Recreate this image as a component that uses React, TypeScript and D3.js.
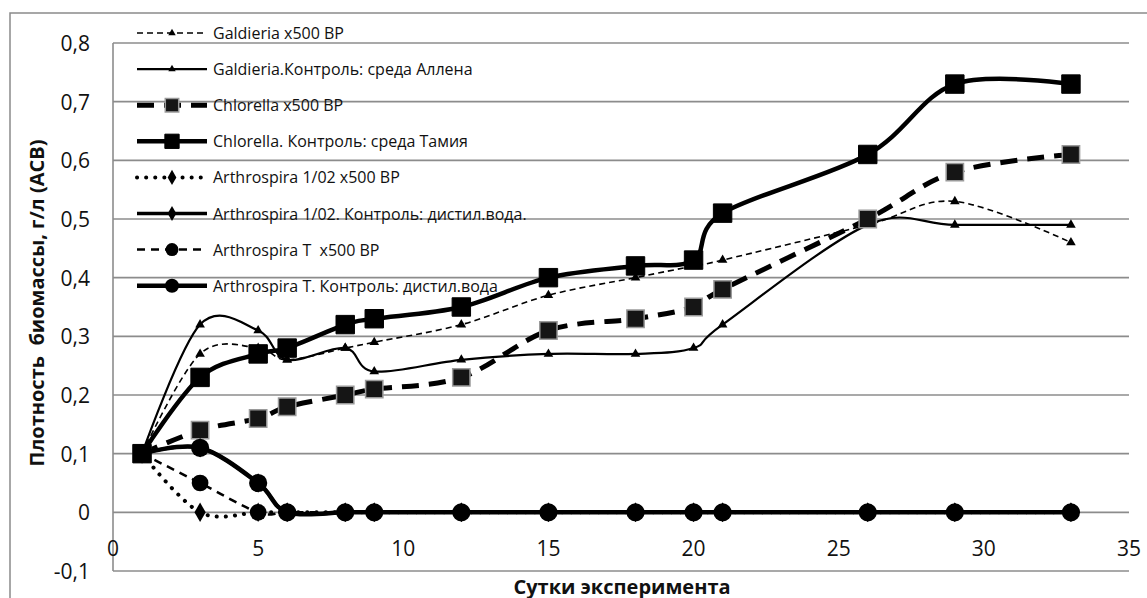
import React from "react";
import * as d3 from "d3";

// ---- data ----
const days = [1, 3, 5, 6, 8, 9, 12, 15, 18, 20, 21, 26, 29, 33];
const galdieriaBP = [0.1, 0.27, 0.28, 0.26, 0.28, 0.29, 0.32, 0.37, 0.4, 0.42, 0.43, 0.49, 0.53, 0.46];
const galdieriaCtrl = [0.1, 0.32, 0.31, 0.26, 0.28, 0.24, 0.26, 0.27, 0.27, 0.28, 0.32, 0.49, 0.49, 0.49];
const chlorellaBP = [0.1, 0.14, 0.16, 0.18, 0.2, 0.21, 0.23, 0.31, 0.33, 0.35, 0.38, 0.5, 0.58, 0.61];
const chlorellaCtrl = [0.1, 0.23, 0.27, 0.28, 0.32, 0.33, 0.35, 0.4, 0.42, 0.43, 0.51, 0.61, 0.73, 0.73];
const arth102BP = [0.1, 0, 0, 0, 0, 0, 0, 0, 0, 0, 0, 0, 0, 0];
const arth102Ctrl = [0.1, 0.11, 0.05, 0, 0, 0, 0, 0, 0, 0, 0, 0, 0, 0];
const arthTBP = [0.1, 0.05, 0, 0, 0, 0, 0, 0, 0, 0, 0, 0, 0, 0];
const arthTCtrl = [0.1, 0.11, 0.05, 0, 0, 0, 0, 0, 0, 0, 0, 0, 0, 0];

const seriesNames = [
  "Galdieria x500 BP",
  "Galdieria.Контроль: среда Аллена",
  "Chlorella x500 BP",
  "Chlorella. Контроль: среда Тамия",
  "Arthrospira 1/02 x500 BP",
  "Arthrospira 1/02. Контроль: дистил.вода.",
  "Arthrospira T  x500 BP",
  "Arthrospira T. Контроль: дистил.вода",
];
const seriesValues = [galdieriaBP, galdieriaCtrl, chlorellaBP, chlorellaCtrl, arth102BP, arth102Ctrl, arthTBP, arthTCtrl];

const xTicks = [0, 5, 10, 15, 20, 25, 30, 35];
const yTicks = [-0.1, 0, 0.1, 0.2, 0.3, 0.4, 0.5, 0.6, 0.7, 0.8];
const xTitle = "Сутки эксперимента";
const yTitle = "Плотность  биомассы, г/л (АСВ)";

// ---- styles ----
type Style = {
  width: number;
  dash: string;
  cap: "butt" | "round";
  symbol: d3.SymbolType;
  size: number;
  fill: string;
  mstroke: string;
  msw: number;
};
const styles: Style[] = [
  { width: 1.6, dash: "6,4", cap: "butt", symbol: d3.symbolTriangle, size: 40, fill: "#000", mstroke: "none", msw: 0 },
  { width: 2.2, dash: "", cap: "butt", symbol: d3.symbolTriangle, size: 40, fill: "#000", mstroke: "none", msw: 0 },
  { width: 5, dash: "17,10", cap: "butt", symbol: d3.symbolSquare, size: 300, fill: "#151515", mstroke: "#9a9a9a", msw: 1.5 },
  { width: 4.5, dash: "", cap: "butt", symbol: d3.symbolSquare, size: 340, fill: "#000", mstroke: "#000", msw: 1 },
  { width: 4, dash: "0.1,9", cap: "round", symbol: d3.symbolDiamond, size: 110, fill: "#000", mstroke: "none", msw: 0 },
  { width: 3.5, dash: "", cap: "butt", symbol: d3.symbolDiamond, size: 110, fill: "#000", mstroke: "none", msw: 0 },
  { width: 2.5, dash: "8,6", cap: "butt", symbol: d3.symbolCircle, size: 220, fill: "#000", mstroke: "none", msw: 0 },
  { width: 4.5, dash: "", cap: "butt", symbol: d3.symbolCircle, size: 260, fill: "#000", mstroke: "none", msw: 0 },
];

const W = 1147;
const H = 598;
const FONT = "'Open Sans', 'DejaVu Sans', sans-serif";

const x = d3.scaleLinear().domain([0, 35]).range([113, 1129]);
const y = d3.scaleLinear().domain([-0.1, 0.8]).range([571, 43]);

const fmtY = (v: number) => {
  const s = d3.format(".1f")(v).replace("\u2212", "-");
  return s === "0.0" ? "0" : s.replace(".", ",");
};

export default function App() {
  const line = d3
    .line<number>()
    .x((_, i) => x(days[i]))
    .y((v) => y(v))
    .curve(d3.curveCardinal.tension(0));

  const legendX0 = 137;
  const legendX1 = 207;
  const legendTextX = 213;
  const legendY0 = 33;
  const legendStep = 36.1;

  return (
    <svg
      width={W}
      height={H}
      style={{ position: "absolute", left: 0, top: 0, background: "#fff" }}
      fontFamily={FONT}
    >
      <rect x={0} y={0} width={W} height={H} fill="#fff" />
      <rect x={10} y={13} width={W + 20} height={H + 20} fill="none" stroke="#8a8a8a" strokeWidth={1.5} />

      {/* gridlines */}
      {yTicks.map((t) => (
        <line key={"g" + t} x1={x(0)} x2={x(35)} y1={y(t)} y2={y(t)} stroke="#8c8c8c" strokeWidth={1.6} />
      ))}
      <line x1={x(0)} x2={x(0)} y1={y(0.8)} y2={y(-0.1)} stroke="#8c8c8c" strokeWidth={1.6} />

      {/* y tick labels */}
      {yTicks.map((t) => (
        <text key={"yl" + t} x={90} y={y(t)} textAnchor="end" dominantBaseline="central" fontSize={21} fill="#111">
          {fmtY(t)}
        </text>
      ))}
      {/* x tick labels */}
      {xTicks.map((t) => (
        <text key={"xl" + t} x={x(t)} y={548} textAnchor="middle" dominantBaseline="central" fontSize={21} fill="#111">
          {t}
        </text>
      ))}

      {/* titles */}
      <text x={622} y={586} textAnchor="middle" dominantBaseline="central" fontSize={20} fontWeight="bold" fill="#111">
        {xTitle}
      </text>
      <text
        transform={`translate(36,303) rotate(-90)`}
        textAnchor="middle"
        dominantBaseline="central"
        fontSize={20}
        fontWeight="bold"
        fill="#111"
        style={{ whiteSpace: "pre" }}
      >
        {yTitle}
      </text>

      {/* series */}
      {seriesValues.map((vals, si) => {
        const st = styles[si];
        const sym = d3.symbol().type(st.symbol).size(st.size)() as string;
        return (
          <g key={"s" + si}>
            <path
              d={line(vals) as string}
              fill="none"
              stroke="#000"
              strokeWidth={st.width}
              strokeDasharray={st.dash || undefined}
              strokeLinecap={st.cap}
              strokeLinejoin="round"
            />
            {vals.map((v, i) => (
              <path
                key={i}
                d={sym}
                transform={`translate(${x(days[i])},${y(v)})`}
                fill={st.fill}
                stroke={st.mstroke}
                strokeWidth={st.msw}
              />
            ))}
          </g>
        );
      })}

      {/* legend */}
      {seriesNames.map((name, si) => {
        const st = styles[si];
        const ly = legendY0 + si * legendStep;
        const sym = d3.symbol().type(st.symbol).size(st.size * 0.6)() as string;
        return (
          <g key={"lg" + si}>
            <line
              x1={legendX0}
              x2={legendX1}
              y1={ly}
              y2={ly}
              stroke="#000"
              strokeWidth={st.width}
              strokeDasharray={st.dash || undefined}
              strokeLinecap={st.cap}
            />
            <path
              d={sym}
              transform={`translate(${(legendX0 + legendX1) / 2},${ly})`}
              fill={st.fill}
              stroke={st.mstroke}
              strokeWidth={st.msw}
            />
            <text
              x={legendTextX}
              y={ly}
              dominantBaseline="central"
              fontSize={16}
              fill="#111"
              style={{ whiteSpace: "pre" }}
            >
              {name}
            </text>
          </g>
        );
      })}
    </svg>
  );
}
